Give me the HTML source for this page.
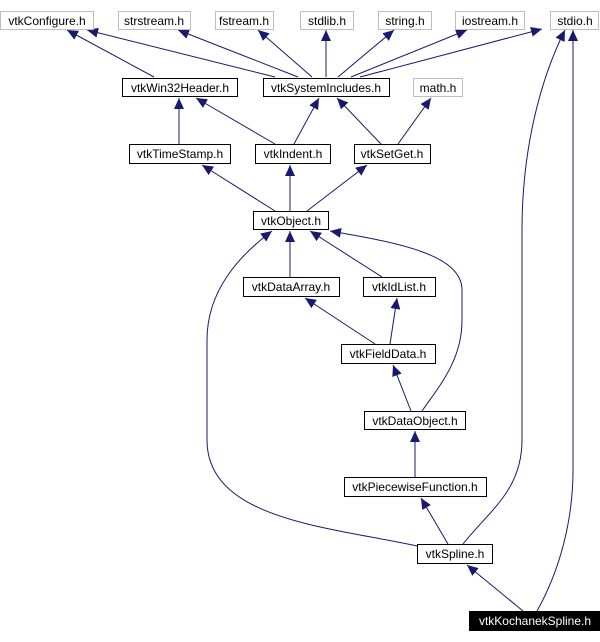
<!DOCTYPE html>
<html><head><meta charset="utf-8"><style>
html,body{margin:0;padding:0;background:#fff;}
svg{display:block;}
text{font-family:"Liberation Sans",sans-serif;font-size:12px;fill:#000;}
</style></head><body>
<svg width="600" height="642" viewBox="0 0 600 642" xmlns="http://www.w3.org/2000/svg">
<defs>
<marker id="a" markerUnits="userSpaceOnUse" markerWidth="12" markerHeight="10" refX="11" refY="5" orient="auto">
<path d="M0,0 L11,5 L0,10 z" fill="#191970"/>
</marker>
</defs>
<g fill="none" stroke="#191970" stroke-width="1" marker-end="url(#a)">
<path d="M154,77 L67,30"/>
<path d="M275,77 L87,30"/>
<path d="M298,77 L178,30"/>
<path d="M312,77 L258,30"/>
<path d="M326,77 L326,30"/>
<path d="M338,77 L394,30"/>
<path d="M351,77 L467,30"/>
<path d="M360,77 L542,29"/>
<path d="M179,144 L179,98"/>
<path d="M275,144 L196,98"/>
<path d="M294,144 L319,98"/>
<path d="M381,144 L337,98"/>
<path d="M398,144 L431,98"/>
<path d="M275,211 L202,165"/>
<path d="M290,211 L290,165"/>
<path d="M307,211 L367,165"/>
<path d="M290,277 L290,231"/>
<path d="M382,277 L310,231"/>
<path d="M375,344 L305,298"/>
<path d="M390,344 L397,298"/>
<path d="M411,411 L393,365"/>
<path d="M422,411 C440,385 462,360 462,320 L462,290 C462,255 400,243 330,231"/>
<path d="M415,477 L415,431"/>
<path d="M448,544 L421,498"/>
<path d="M417,546 C330,527 207,520 207,440 L207,340 C207,290 240,255 272,231"/>
<path d="M463,544 C490,510 522,490 522,440 L522,230 C522,150 540,80 565,30"/>
<path d="M523,611 L467,565"/>
<path d="M537,611 C560,570 573,520 573,470 L573,30"/>
</g>
<g stroke-width="1">
<g fill="#fff" stroke="#bfbfbf">
<rect x="0.5" y="11.5" width="93" height="18"/>
<rect x="118.5" y="11.5" width="72" height="18"/>
<rect x="215.5" y="11.5" width="58" height="18"/>
<rect x="300.5" y="11.5" width="53" height="18"/>
<rect x="378.5" y="11.5" width="53" height="18"/>
<rect x="455.5" y="11.5" width="69" height="18"/>
<rect x="550.5" y="11.5" width="48" height="18"/>
<rect x="413.5" y="78.5" width="49" height="18"/>
</g>
<g fill="#fff" stroke="#000">
<rect x="122.5" y="78.5" width="115" height="18"/>
<rect x="263.5" y="78.5" width="126" height="18"/>
<rect x="129.5" y="144.5" width="101" height="19"/>
<rect x="255.5" y="144.5" width="75" height="19"/>
<rect x="354.5" y="144.5" width="76" height="19"/>
<rect x="253.5" y="211.5" width="75" height="18"/>
<rect x="243.5" y="277.5" width="96" height="19"/>
<rect x="363.5" y="277.5" width="72" height="19"/>
<rect x="341.5" y="344.5" width="94" height="19"/>
<rect x="364.5" y="411.5" width="101" height="18"/>
<rect x="344.5" y="477.5" width="142" height="19"/>
<rect x="417.5" y="544.5" width="75" height="19"/>
</g>
<rect x="469" y="611" width="131" height="20" fill="#000"/>
</g>
<g text-anchor="middle">
<text x="47" y="25">vtkConfigure.h</text>
<text x="154" y="25">strstream.h</text>
<text x="244" y="25">fstream.h</text>
<text x="327" y="25">stdlib.h</text>
<text x="405" y="25">string.h</text>
<text x="490" y="25">iostream.h</text>
<text x="575" y="25">stdio.h</text>
<text x="180" y="92">vtkWin32Header.h</text>
<text x="326" y="92">vtkSystemIncludes.h</text>
<text x="438" y="92">math.h</text>
<text x="180" y="158">vtkTimeStamp.h</text>
<text x="293" y="158">vtkIndent.h</text>
<text x="392" y="158">vtkSetGet.h</text>
<text x="291" y="225">vtkObject.h</text>
<text x="291" y="291">vtkDataArray.h</text>
<text x="399" y="291">vtkIdList.h</text>
<text x="388" y="358">vtkFieldData.h</text>
<text x="415" y="425">vtkDataObject.h</text>
<text x="415" y="491">vtkPiecewiseFunction.h</text>
<text x="455" y="558">vtkSpline.h</text>
<text x="535" y="625" style="fill:#fff">vtkKochanekSpline.h</text>
</g>
</svg>
</body></html>
